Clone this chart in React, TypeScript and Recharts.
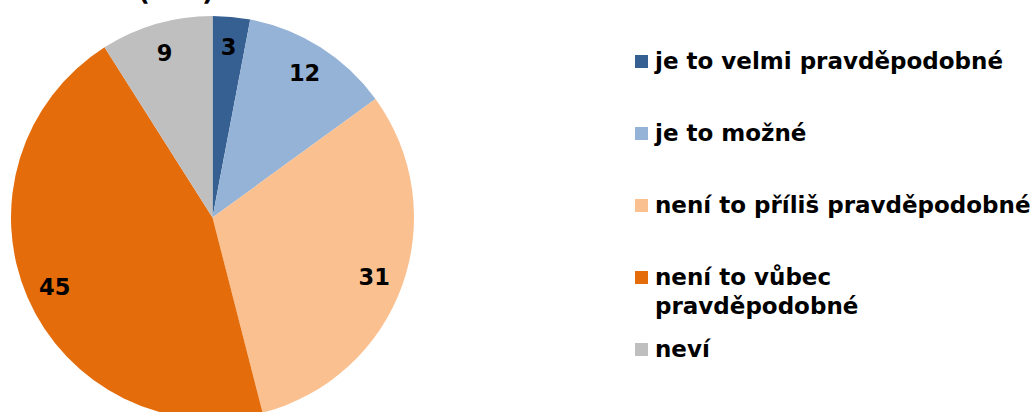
import React from "react";
import { Cell, Legend, Pie, PieChart } from "recharts";

// Answer categories and shares (%), read clockwise from 12 o'clock.
const CATEGORIES = [
  "je to velmi pravděpodobné",
  "je to možné",
  "není to příliš pravděpodobné",
  "není to vůbec pravděpodobné",
  "neví",
];
const SHARES = [3, 12, 31, 45, 9];
const TITLE_TAIL = "(v %)";

const COLORS = ["#376092", "#95b3d7", "#fac090", "#e46c0a", "#bfbfbf"];
const FONT = "'DejaVu Sans', Verdana, sans-serif";

const rows = CATEGORIES.map((name, i) => ({ name, value: SHARES[i], color: COLORS[i] }));

const RAD = Math.PI / 180;

function sliceLabel(p: any) {
  const r = p.outerRadius * 0.853;
  const x = p.cx + r * Math.cos(-p.midAngle * RAD);
  const y = p.cy + r * Math.sin(-p.midAngle * RAD) + 1;
  return (
    <text
      x={x}
      y={y}
      textAnchor="middle"
      dominantBaseline="central"
      fontFamily={FONT}
      fontSize={22.5}
      fontWeight={700}
      fill="#000"
    >
      {p.value}
    </text>
  );
}

function legendBox() {
  return (
    <div style={{ fontFamily: FONT, fontSize: 23, fontWeight: 700, color: "#000" }}>
      {rows.map((d) => (
        <div key={d.name} style={{ display: "flex", height: 72, lineHeight: "29px" }}>
          <span
            style={{
              width: 13,
              height: 13,
              background: d.color,
              marginTop: 8,
              marginRight: 7,
              flex: "none",
            }}
          />
          <span style={{ width: 380 }}>{d.name}</span>
        </div>
      ))}
    </div>
  );
}

export default function App() {
  return (
    <div style={{ position: "absolute", left: 0, top: 0, width: 1033, height: 412, background: "#fff", overflow: "hidden" }}>
      <PieChart width={1033} height={412} margin={{ top: 0, right: 0, bottom: 0, left: 0 }}>
        <Pie
          data={rows}
          dataKey="value"
          nameKey="name"
          cx={212.5}
          cy={217.5}
          outerRadius={201.5}
          startAngle={90}
          endAngle={-270}
          stroke="none"
          label={sliceLabel}
          labelLine={false}
          isAnimationActive={false}
        >
          {rows.map((d, i) => (
            <Cell key={i} fill={d.color} />
          ))}
        </Pie>
        <Legend
          content={legendBox}
          wrapperStyle={{ position: "absolute", left: 635, top: 47, width: 400 }}
        />
      </PieChart>
      <svg
        width={1033}
        height={412}
        style={{ position: "absolute", left: 0, top: 0, pointerEvents: "none" }}
      >
        <text x={138} y={0} fontFamily={FONT} fontSize={26} fontWeight={700} fill="#000">
          {TITLE_TAIL}
        </text>
      </svg>
    </div>
  );
}
